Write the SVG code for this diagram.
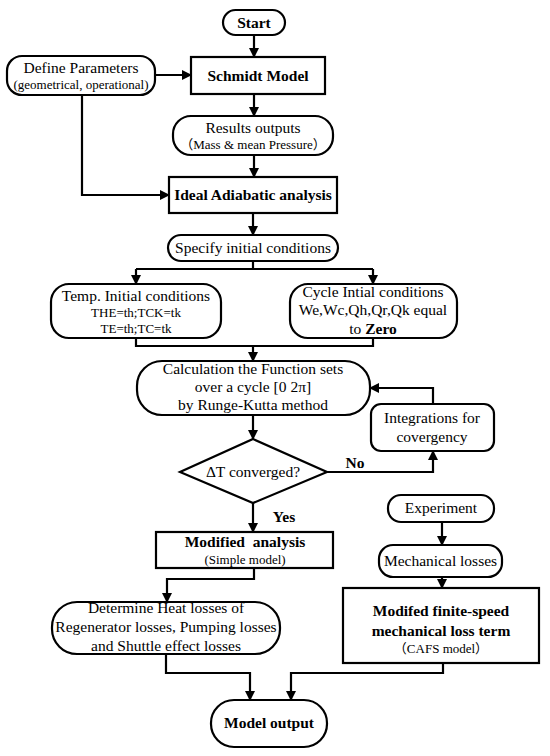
<svg xmlns="http://www.w3.org/2000/svg" width="550" height="756" viewBox="0 0 550 756">
<defs>
<marker id="ah" markerWidth="10" markerHeight="10" refX="9" refY="5" orient="auto" markerUnits="userSpaceOnUse">
<path d="M0,0 L10,5 L0,10 Z" fill="#000"/>
</marker>
<style>
.shape{fill:#fff;stroke:#000;stroke-width:2.2}
.conn{fill:none;stroke:#000;stroke-width:2.2;marker-end:url(#ah)}
.line{fill:none;stroke:#000;stroke-width:2.2}
text{font-family:"Liberation Serif","Noto Sans CJK SC",serif;font-size:15.5px;fill:#000;text-anchor:middle}
.b{font-weight:bold}
.s{font-size:13px}
</style>
</defs>
<rect width="550" height="756" fill="#fff"/>
<g id="connectors">
<path class="conn" d="M254,35 V57"/>
<path class="conn" d="M155,75 H191"/>
<path class="conn" d="M254,94 V116"/>
<path class="conn" d="M254,155 V177"/>
<path class="conn" d="M82,95 V195 H169"/>
<path class="conn" d="M253,213 V235"/>
<path class="line" d="M253,261 V269 M136,269 H373"/>
<path class="conn" d="M136,269 V284"/>
<path class="conn" d="M373,269 V284"/>
<path class="line" d="M136,338 V346 H373 V338"/>
<path class="conn" d="M253,346 V361"/>
<path class="conn" d="M253,415 V439"/>
<path class="conn" d="M327,472 H433 V451"/>
<path class="conn" d="M433,404 V388 H370"/>
<path class="conn" d="M253,503 V532"/>
<path class="conn" d="M254,568 V579 H167 V602"/>
<path class="conn" d="M442,522 V545"/>
<path class="conn" d="M442,577 V588"/>
<path class="conn" d="M166,654 V673 H250 V700"/>
<path class="conn" d="M443,663 V673 H291 V700"/>
<text class="b" x="355" y="468">No</text>
<text class="b" x="284" y="522">Yes</text>
</g>
<g id="start">
<rect class="shape" x="223" y="10" width="62" height="25" rx="12.5"/>
<text class="b" x="254" y="28">Start</text>
</g>
<g id="define">
<rect class="shape" x="7" y="56" width="148" height="39" rx="15"/>
<text x="81" y="73">Define Parameters</text>
<text class="s" x="81" y="89">(geometrical, operational)</text>
</g>
<g id="schmidt">
<rect class="shape" x="191" y="57" width="134" height="37"/>
<text class="b" x="258" y="81">Schmidt Model</text>
</g>
<g id="results">
<rect class="shape" x="173" y="116" width="160" height="39" rx="18"/>
<text x="253" y="133">Results outputs</text>
<text class="s" x="253" y="149">（Mass &amp; mean Pressure）</text>
</g>
<g id="ideal">
<rect class="shape" x="169" y="177" width="168" height="36"/>
<text class="b" x="253" y="200">Ideal Adiabatic analysis</text>
</g>
<g id="specify">
<rect class="shape" x="168" y="235" width="170" height="26" rx="13"/>
<text x="253" y="253">Specify initial conditions</text>
</g>
<g id="temp">
<rect class="shape" x="51" y="284" width="170" height="54" rx="18"/>
<text x="136" y="301">Temp. Initial conditions</text>
<text class="s" x="136" y="317">THE=th;TCK=tk</text>
<text class="s" x="136" y="333">TE=th;TC=tk</text>
</g>
<g id="cycle">
<rect class="shape" x="290" y="284" width="167" height="54" rx="18"/>
<text x="373" y="297">Cycle Intial conditions</text>
<text x="373" y="315">We,Wc,Qh,Qr,Qk equal</text>
<text x="373" y="334">to <tspan class="b">Zero</tspan></text>
</g>
<g id="calc">
<rect class="shape" x="137" y="361" width="233" height="54" rx="25"/>
<text x="253" y="374">Calculation the Function sets</text>
<text x="253" y="392">over a cycle [0 2π]</text>
<text x="253" y="410">by Runge-Kutta method</text>
</g>
<g id="integrations">
<rect class="shape" x="371" y="404" width="123" height="47" rx="10"/>
<text x="432" y="423">Integrations for</text>
<text x="432" y="442">covergency</text>
</g>
<g id="converged">
<path class="shape" d="M253,439 L327,472 L253,503 L180,472 Z"/>
<text x="253" y="477">ΔT converged?</text>
</g>
<g id="modified">
<rect class="shape" x="156" y="532" width="177" height="36"/>
<text class="b" x="245" y="547" xml:space="preserve">Modified  analysis</text>
<text class="s" x="245" y="564">(Simple model)</text>
</g>
<g id="experiment">
<rect class="shape" x="388" y="495" width="106" height="27" rx="13"/>
<text x="441" y="513">Experiment</text>
</g>
<g id="mechanical">
<rect class="shape" x="379" y="545" width="123" height="32" rx="14"/>
<text x="440.5" y="566">Mechanical losses</text>
</g>
<g id="modifed">
<rect class="shape" x="343" y="588" width="196" height="75"/>
<text class="b" x="441" y="616">Modifed finite-speed</text>
<text class="b" x="441" y="636">mechanical loss term</text>
<text class="s" x="441" y="653">（CAFS model）</text>
</g>
<g id="determine">
<rect class="shape" x="52" y="602" width="228" height="52" rx="25"/>
<text x="166" y="613">Determine Heat losses of</text>
<text x="166" y="632">Regenerator losses, Pumping losses</text>
<text x="166" y="651">and Shuttle effect losses</text>
</g>
<g id="output">
<rect class="shape" x="211" y="700" width="116" height="47" rx="23"/>
<text class="b" x="269" y="728">Model output</text>
</g>
</svg>
